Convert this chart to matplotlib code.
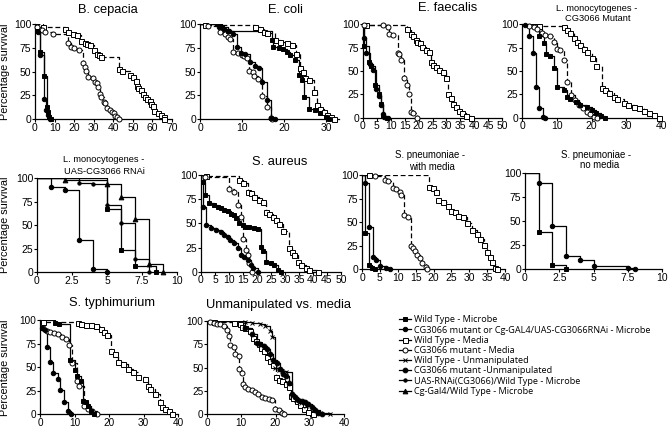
import matplotlib
matplotlib.use('Agg')
import matplotlib.pyplot as plt
from matplotlib.lines import Line2D

W, H = 669, 429
plt.rcParams['font.family'] = ['Liberation Sans', 'DejaVu Sans']
plt.rcParams['lines.scale_dashes'] = False

# ---------------- data (days, percent survival) ----------------
# B. cepacia
bc_wt_mic_t = [1.2, 2.5, 4.7, 5.9, 6.7, 7.2, 8]
bc_wt_mic_s = [93, 71, 45, 13, 7, 2.5, 0]
bc_mut_mic_t = [1.5, 2.8, 4.7, 5.5, 6.5, 7.5]
bc_mut_mic_s = [92, 68, 21, 10, 4, 0]
bc_wt_med_t = [4.2, 15.4, 16.8, 19.6, 21.3, 23.5, 25.6, 26.5, 28, 30.2, 31.5, 32.7, 33.5, 42.7, 44.4, 48.6,
               50.3, 51.5, 52, 52.8, 54, 55, 56, 57.3, 58.7, 59.5, 60.3, 61, 62.8, 64.5, 65.7, 66]
bc_wt_med_s = [97, 95, 91.5, 89.5, 89, 82, 80, 79, 78, 73, 69, 68, 65, 52.5, 51, 46.5,
               44, 40, 35, 33, 30.6, 26, 23.6, 21, 19, 16, 14, 8, 6, 4, 2, 0]
bc_mut_med_t = [1.2, 3.4, 5, 9.2, 16.8, 18.4, 20, 22.6, 24.3, 25.5, 26.3, 27.3, 29.7, 30.5, 31.5, 32.3,
                33, 33.9, 35.2, 36, 36.9, 38.5, 39.4, 40.2, 41, 42, 42.7]
bc_mut_med_s = [97, 94, 92, 89.4, 80, 76, 74.5, 73, 59, 55, 51, 44.7, 43.7, 39, 37.7, 33.5,
                26, 23, 18.3, 16.5, 12, 9.5, 7.4, 6, 3.5, 2.5, 0]

# E. coli
ec_wt_mic_t = [5.2, 6.7, 17, 17.3, 18.7, 19.8, 20.6, 21.4, 22.5, 23.4, 24.2, 24.8, 25.8, 27.4, 28.6, 29.8, 30.6]
ec_wt_mic_s = [96.8, 93.3, 83.5, 76, 74.6, 73.6, 71, 67.6, 62, 46.5, 41, 23.6, 11, 9.5, 6, 2.5, 0]
ec_mut_mic_t = [4.4, 5.8, 7, 7.8, 8.7, 9.8, 10.7, 11.9, 13.1, 14.1, 14.8, 15.9, 16.9, 17.9]
ec_mut_mic_s = [97.5, 94.7, 93, 89.8, 76, 70, 69, 60.6, 56, 53.5, 39.4, 20, 0.7, 0]
ec_wt_med_t = [1.2, 13.1, 14.3, 15.2, 15.9, 17.9, 19, 20.6, 21.8, 22.8, 23.8, 24.4, 25, 25.8, 27, 27.8,
               28.6, 29.4, 30.2, 31, 31.7]
ec_wt_med_s = [99, 97.5, 94.7, 92, 90.5, 83.5, 81.7, 80, 78, 69, 53.5, 50, 43, 41, 29, 15,
               11, 7, 4, 2, 0]
ec_mut_med_t = [1.8, 4.8, 6, 6.7, 7.1, 7.9, 9, 9.9, 10.5, 11.1, 11.7, 12.5, 12.9, 13.7, 14.8, 15.9, 16.8, 17.2]
ec_mut_med_s = [98.6, 91.5, 89.4, 87, 85, 71, 70, 67.6, 66, 64.8, 51, 50, 45.4, 42, 24, 13, 0.8, 0]

# E. faecalis
ef_wt_mic_t = [0.2, 2.1, 3, 4.2, 5.6, 6.3, 7.1, 8.5]
ef_wt_mic_s = [77, 60, 55, 35, 25, 15, 2, 0]
ef_mut_mic_t = [0.4, 1.2, 2.5, 3.6, 4.8, 5.6, 6.3, 7.1, 7.7, 9]
ef_mut_mic_s = [85, 69, 58, 51, 31, 23.6, 14, 4, 1, 0]
ef_wt_med_t = [1.2, 15.7, 17.3, 18, 19, 19.6, 20.5, 21.4, 22.6, 23.6, 24.4, 25.2, 26.2, 27.4, 28.6, 29.8,
               30.6, 31.5, 32.5, 33.3, 34.5, 35.7, 36.9, 38.7]
ef_wt_med_s = [99, 94.6, 90, 87, 83, 81, 79.6, 76, 73, 70.7, 60, 56.4, 54.6, 51, 49, 43,
               25, 20.7, 15, 11, 7.5, 4.6, 2, 0]
ef_mut_med_t = [0.5, 7.1, 8.9, 9.5, 10.7, 12.5, 12.9, 13.7, 14.9, 15.7, 16.4, 17.3, 17.9, 19.3]
ef_mut_med_s = [99.5, 99, 97.5, 90, 89, 69, 68, 62, 42, 35, 25, 6.4, 4.6, 0]

# L. monocytogenes - CG3066 mutant
lm_mut_mic_t = [1, 1.9, 3.1, 4, 5, 6, 6.7]
lm_mut_mic_s = [99, 87.5, 69, 32.5, 10.7, 1, 0]
lm_wt_mic_t = [4.8, 6.3, 6.9, 8, 9.1, 10.1, 12, 13, 13.9, 15.4, 16.8, 18.8, 20.2, 21.2, 22.6, 24]
lm_wt_mic_s = [87.5, 79.6, 68, 66.4, 53, 32.5, 29.6, 22.5, 19.6, 16.4, 13.6, 11, 8, 4.6, 1.8, 0]
lm_mut_med_t = [1.9, 3.4, 4.3, 5.8, 6.7, 8, 9.1, 10.1, 11, 12, 13, 14.2, 15.2, 16.3, 17.5, 18.8, 19.7, 20.7, 21.6]
lm_mut_med_s = [98.6, 97, 94.6, 91, 89, 87, 81.4, 73.6, 72.5, 62, 38.6, 24, 19, 14, 10, 6.4, 3.6, 1, 0]
lm_wt_med_t = [4.8, 12, 13, 13.9, 14.9, 15.9, 16.8, 17.8, 18.8, 20.2, 21.4, 22.9, 23.8, 25, 26.4, 27.4,
               29.3, 30.6, 32.2, 33.7, 35.1, 36.5, 38, 39.4]
lm_wt_med_s = [98.6, 97, 94, 90.4, 85.7, 81.4, 78, 74, 70, 63.6, 55, 32, 30, 26.8, 22.5, 20,
               16, 13.6, 11.8, 10, 7, 5.4, 2.9, 0]

# L. monocytogenes - UAS-CG3066 RNAi
lr_wt_mic_t = [5, 6, 7, 8.5]
lr_wt_mic_s = [67, 23.5, 7, 0]
lr_rnai_mic_t = [1, 2, 3, 4, 5]
lr_rnai_mic_s = [90.5, 87.5, 34, 4, 0]
lr_uas_t = [3, 4, 5, 6, 7, 8]
lr_uas_s = [95, 93.5, 72, 52, 14, 0]
lr_cg_t = [2, 5, 6, 7, 8, 9]
lr_cg_s = [98, 94, 80, 57, 9, 0]

# S. aureus
sa_wt_mic_t = [0.6, 1.5, 3.0, 4.8, 6.0, 7.1, 8.3, 9.5, 10.7, 11.7, 12.5, 13.5, 14.9, 16.1, 17.3, 19.0,
               20.2, 21.4, 22.3, 23.2, 25.0, 26.2, 27.4, 28.6]
sa_wt_mic_s = [93, 79, 70.7, 69, 67, 65.5, 63.8, 62.8, 60, 58.6, 56, 50, 48, 46.6, 46, 45,
               44, 26, 21.4, 10.3, 8.6, 7, 1.7, 0]
sa_mut_mic_t = [0.6, 1.8, 3.6, 5.4, 7.1, 8.3, 9.5, 10.4, 11.9, 13.1, 14.3, 15.5, 16.7, 17.9, 18.7, 20.2]
sa_mut_mic_s = [67, 48, 45, 43, 41.4, 38, 36, 32.8, 29.3, 24, 17.2, 15.5, 12, 7, 3.4, 0]
sa_mut_med_t = [1.5, 10.1, 11.9, 13.1, 14.3, 15.1, 16.1, 16.7, 17.3, 18.1]
sa_mut_med_s = [98, 86, 82.8, 69, 57, 34, 22.4, 17, 8.6, 0]
sa_wt_med_t = [1.8, 13.7, 15.1, 16.7, 17.9, 19.0, 20.8, 22.0, 23.2, 24.4, 25.6, 26.8, 28.0, 29.2, 31.3,
               32.5, 33.3, 34.5, 35.7, 37.5, 38.7, 41.7]
sa_wt_med_s = [99, 95, 92, 82.8, 81, 77.6, 74, 72.4, 62, 60, 57, 53.4, 49, 42.4, 25,
               20.7, 17.2, 10.3, 6.9, 3.4, 1.7, 0]

# S. pneumoniae - with media
sp_mut_mic_t = [0.9, 2, 3.1, 4, 5.1, 6.8, 7.8]
sp_mut_mic_s = [91, 45, 13.4, 9.9, 3.5, 1, 0]
sp_wt_mic_t = [0.9, 2, 2.8, 3.6]
sp_wt_mic_s = [39, 4.6, 1, 0]
sp_mut_med_t = [3.6, 6.4, 7.3, 8.7, 9.6, 10.6, 11, 11.7, 12.9, 13.6, 14.3, 14.8, 15.4, 16.2, 16.8, 17.8, 18.3]
sp_mut_med_s = [99, 95, 94, 86.6, 85, 81.6, 78.8, 57.6, 55, 24.7, 22.3, 19.4, 15, 11.7, 6.4, 2, 0]
sp_wt_med_t = [2, 18.7, 19.9, 20.8, 21.3, 22.7, 24.1, 24.8, 26, 26.9, 28.3, 29.4, 30.7, 32.1, 33, 34.1,
               34.9, 35.8, 36.4, 37.2, 37.7]
sp_wt_med_s = [99.5, 87.6, 86, 82.3, 74, 71.7, 67, 62, 61, 57, 55, 48.8, 41.7, 37.5, 31.8, 25.8,
               18.7, 13.4, 7.4, 1, 0]

# S. pneumoniae - no media
sn_wt_mic_t = [1, 2, 3]
sn_wt_mic_s = [39, 4.2, 0]
sn_mut_mic_t = [1, 2, 3, 4, 5, 7.5, 8]
sn_mut_mic_s = [89.5, 45, 13.6, 9.4, 3.5, 1.4, 0]

# S. typhimurium
st_mut_mic_t = [0.5, 1.5, 2, 2.9, 3.9, 5.1, 5.9, 6.9, 8, 9]
st_mut_mic_s = [92, 90, 71, 55.5, 43.5, 37.8, 25.8, 12.4, 3.5, 0]
st_wt_mic_t = [4.4, 5.4, 8.8, 10, 10.6, 11.8, 12.5, 13.2, 13.9, 14.7, 15.7]
st_wt_mic_s = [97, 96, 58, 46.6, 40.6, 35, 14, 12.4, 8.8, 2.8, 0]
st_mut_med_t = [1, 2, 2.9, 4.1, 5.1, 6.4, 7.4, 8.3, 9.3, 10.6, 11.3, 12.7, 13.9, 15.2, 16.4]
st_mut_med_s = [92, 89, 87.6, 86.6, 84.8, 82.3, 80, 74, 54.8, 35.3, 30, 8.8, 5.3, 2.8, 0]
st_wt_med_t = [1, 11, 11.8, 13.2, 14.7, 16.2, 17.6, 18.6, 19.4, 20.6, 21.6, 22.5, 24, 25.5, 27, 28.4,
               30.4, 31.4, 32, 33.3, 34.8, 35.3, 36.3, 37.3, 38.2]
st_wt_med_s = [98, 97, 96, 95.4, 94.7, 93.6, 90.8, 87.6, 83.7, 67, 63.6, 55.8, 53, 47.7, 45, 39.6,
               37, 30, 26.5, 21, 12.4, 7, 5.3, 3.5, 0]

# Unmanipulated vs. media
um_mut_med_t = [1, 1.9, 2.9, 3.9, 4.9, 5.8, 6.3, 6.8, 7.8, 8.3, 9.2, 9.4, 10.2, 10.4, 11.2, 11.9, 13.1,
                14.1, 15, 16, 17, 18.2, 19.1, 19.9, 20.9, 21.8, 22.6]
um_mut_med_s = [99, 98, 97, 96.5, 94.7, 91, 84, 74, 72, 64.5, 62.8, 48.6, 44, 32.6, 29, 27.3, 25.5,
                23.8, 21.3, 19, 17.7, 16.7, 14.9, 6, 4.3, 1.4, 0]
um_wt_med_t = [1.9, 7.8, 9.7, 10.2, 11.2, 12.6, 13.3, 14.3, 15.2, 15.8, 16.5, 17.5, 18.4, 19.4, 20.1,
               21.1, 22, 23, 24, 24.6, 25.2, 26.2, 27.2, 28.4, 29.6, 31]
um_wt_med_s = [99.5, 98, 96.5, 93.6, 93, 89.4, 82, 78.7, 75, 71, 68, 61.7, 56.7, 53, 39.7,
               36.9, 35.5, 32.6, 29, 20, 17.7, 14, 9.5, 5.3, 2.5, 0]
um_wt_un_t = [11.2, 13.1, 15.5, 17, 18.4, 19, 19.9, 21, 22, 23.2, 24.8, 26, 27.5, 29, 31, 33, 36]
um_wt_un_s = [99.3, 98.6, 97, 94.7, 90, 83, 50, 47.5, 46, 45, 20, 15, 12, 9, 5, 1, 0]
um_mut_un_t = [11.2, 13.1, 14.6, 15.5, 16.5, 17.5, 18.4, 19.4, 20.4, 21.4, 22.3, 23.1, 24, 24.8, 25.7,
               26.7, 27.7, 28.6, 29.6, 30.6, 31.6, 32.5, 33.5]
um_mut_un_s = [93, 85.8, 77, 75, 73.4, 70, 64.5, 58, 54.6, 48.6, 43.3, 41.5, 34, 22, 18.4,
               15.6, 14.2, 13, 10.6, 7.8, 4.3, 1.4, 0]

legend_labels = ["Wild Type - Microbe",
                 "CG3066 mutant or Cg-GAL4/UAS-CG3066RNAi - Microbe",
                 "Wild Type - Media",
                 "CG3066 mutant - Media",
                 "Wild Type - Unmanipulated",
                 "CG3066 mutant -Unmanipulated",
                 "UAS-RNAi(CG3066)/Wild Type - Microbe",
                 "Cg-Gal4/Wild Type - Microbe"]

# ---------------- styles ----------------
DASH = (3.5, 2.0)
STY = {
    'wt_mic':  dict(marker='s', mfc='black', ms=3.2, dashed=False),
    'mut_mic': dict(marker='o', mfc='black', ms=3.2, dashed=False),
    'wt_med':  dict(marker='s', mfc='white', ms=3.6, dashed=True),
    'mut_med': dict(marker='o', mfc='white', ms=3.6, dashed=True),
    'wt_un':   dict(marker='x', mfc='black', ms=3.2, dashed=False),
    'mut_un':  dict(marker='o', mfc='black', ms=3.4, dashed=False),
    'uas':     dict(marker='o', mfc='black', ms=2.4, dashed=False),
    'cg':      dict(marker='^', mfc='black', ms=3.4, dashed=False),
}

fig = plt.figure(figsize=(W / 100, H / 100), dpi=100)


def add_ax(x0, y0, x1, y1):
    return fig.add_axes([x0 / W, 1 - y1 / H, (x1 - x0) / W, (y1 - y0) / H])


def km(ax, t, s, key):
    st = STY[key]
    tt = [0] + list(t)
    ss = [100] + list(s)
    kw = dict(color='black', lw=0.9)
    if st['dashed']:
        kw['dashes'] = DASH
    ax.step(tt, ss, where='post', **kw)
    ax.plot(t, s, ls='none', marker=st['marker'], ms=st['ms'], mfc=st['mfc'], mec='black',
            mew=0.7, clip_on=False, zorder=3)


def fmt(ax, xmax, xticks, xlabels=None, size=7.5):
    ax.set_xlim(0, xmax)
    ax.set_ylim(0, 100)
    for sp in ('top', 'right'):
        ax.spines[sp].set_visible(False)
    for sp in ('left', 'bottom'):
        ax.spines[sp].set_linewidth(0.9)
    ax.set_yticks([0, 25, 50, 75, 100])
    ax.set_xticks(xticks)
    if xlabels is not None:
        ax.set_xticklabels(xlabels)
    ax.tick_params(direction='out', length=2.0, width=0.8, labelsize=size, pad=0.6)
    ax.patch.set_alpha(0)


def ftext(x, y, s, size, **kw):
    fig.text(x / W, 1 - y / H, s, fontsize=size, ha='center', va='center', **kw)


# panel 1: B. cepacia
ax = add_ax(35, 24.3, 172, 119)
km(ax, bc_wt_med_t, bc_wt_med_s, 'wt_med')
km(ax, bc_mut_med_t, bc_mut_med_s, 'mut_med')
km(ax, bc_wt_mic_t, bc_wt_mic_s, 'wt_mic')
km(ax, bc_mut_mic_t, bc_mut_mic_s, 'mut_mic')
fmt(ax, 70, range(0, 71, 10))
ftext(108, 10, "B. cepacia", 9.3)

# panel 2: E. coli
ax = add_ax(200, 24.3, 339, 119)
km(ax, ec_wt_med_t, ec_wt_med_s, 'wt_med')
km(ax, ec_mut_med_t, ec_mut_med_s, 'mut_med')
km(ax, ec_wt_mic_t, ec_wt_mic_s, 'wt_mic')
km(ax, ec_mut_mic_t, ec_mut_mic_s, 'mut_mic')
fmt(ax, 33, [0, 10, 20, 30])
ftext(285, 10, "E. coli", 9.3)

# panel 3: E. faecalis
ax = add_ax(363, 24.3, 502, 117.7)
km(ax, ef_wt_med_t, ef_wt_med_s, 'wt_med')
km(ax, ef_mut_med_t, ef_mut_med_s, 'mut_med')
km(ax, ef_wt_mic_t, ef_wt_mic_s, 'wt_mic')
km(ax, ef_mut_mic_t, ef_mut_mic_s, 'mut_mic')
fmt(ax, 50, range(0, 51, 5))
ftext(448, 8, "E. faecalis", 9.3)

# panel 4: L. monocytogenes - CG3066 Mutant
ax = add_ax(522, 24.3, 661, 117.7)
km(ax, lm_wt_med_t, lm_wt_med_s, 'wt_med')
km(ax, lm_mut_med_t, lm_mut_med_s, 'mut_med')
km(ax, lm_wt_mic_t, lm_wt_mic_s, 'wt_mic')
km(ax, lm_mut_mic_t, lm_mut_mic_s, 'mut_mic')
fmt(ax, 40, [0, 10, 20, 30, 40])
ftext(597, 8.3, "L. monocytogenes -", 6.7)
ftext(598, 18.6, "CG3066 Mutant", 6.7)

# panel 5: L. monocytogenes - UAS-CG3066 RNAi
ax = add_ax(37, 178.3, 177, 272.3)
km(ax, lr_cg_t, lr_cg_s, 'cg')
km(ax, lr_uas_t, lr_uas_s, 'uas')
km(ax, lr_wt_mic_t, lr_wt_mic_s, 'wt_mic')
km(ax, lr_rnai_mic_t, lr_rnai_mic_s, 'mut_mic')
fmt(ax, 10, [0, 2.5, 5, 7.5, 10], ["0", "2.5", "5", "7.5", "10"])
ftext(103.5, 160, "L. monocytogenes -", 6.7)
ftext(104, 171, "UAS-CG3066 RNAi", 6.7)

# panel 6: S. aureus
ax = add_ax(201, 175, 341, 271.7)
km(ax, sa_wt_med_t, sa_wt_med_s, 'wt_med')
km(ax, sa_mut_med_t, sa_mut_med_s, 'mut_med')
km(ax, sa_wt_mic_t, sa_wt_mic_s, 'wt_mic')
km(ax, sa_mut_mic_t, sa_mut_mic_s, 'mut_mic')
fmt(ax, 50, range(0, 51, 5))
ftext(280, 161.7, "S. aureus", 9.3)

# panel 7: S. pneumoniae - with media
ax = add_ax(362, 175, 505, 269.3)
km(ax, sp_wt_med_t, sp_wt_med_s, 'wt_med')
km(ax, sp_mut_med_t, sp_mut_med_s, 'mut_med')
km(ax, sp_wt_mic_t, sp_wt_mic_s, 'wt_mic')
km(ax, sp_mut_mic_t, sp_mut_mic_s, 'mut_mic')
fmt(ax, 40, range(0, 41, 5))
ftext(430, 155, "S. pneumoniae -", 6.9)
ftext(431.5, 166.7, "with media", 6.9)

# panel 8: S. pneumoniae - no media
ax = add_ax(525, 173.3, 662, 269)
km(ax, sn_wt_mic_t, sn_wt_mic_s, 'wt_mic')
km(ax, sn_mut_mic_t, sn_mut_mic_s, 'mut_mic')
fmt(ax, 10, [0, 2.5, 5, 7.5, 10], ["0", "2.5", "5", "7.5", "10"])
ftext(596.5, 155, "S. pneumoniae -", 6.9)
ftext(600, 165.3, "no media", 6.9)

# panel 9: S. typhimurium
ax = add_ax(40, 320.2, 178, 414)
km(ax, st_wt_med_t, st_wt_med_s, 'wt_med')
km(ax, st_mut_med_t, st_mut_med_s, 'mut_med')
km(ax, st_wt_mic_t, st_wt_mic_s, 'wt_mic')
km(ax, st_mut_mic_t, st_mut_mic_s, 'mut_mic')
fmt(ax, 40, [0, 10, 20, 30, 40], size=7.2)
ftext(112, 303.3, "S. typhimurium", 9.3)

# panel 10: Unmanipulated vs. media
ax = add_ax(207, 321.2, 344, 414.2)
km(ax, um_wt_med_t, um_wt_med_s, 'wt_med')
km(ax, um_mut_med_t, um_mut_med_s, 'mut_med')
km(ax, um_wt_un_t, um_wt_un_s, 'wt_un')
km(ax, um_mut_un_t, um_mut_un_s, 'mut_un')
fmt(ax, 40, [0, 10, 20, 30, 40], size=7.2)
ftext(278.5, 305, "Unmanipulated vs. media", 9.3)

# y labels
for yc in (72, 225, 368):
    fig.text(5.5 / W, 1 - yc / H, "Percentage survival", fontsize=7.8, rotation=90,
             ha='center', va='center')

# legend
keys = ['wt_mic', 'mut_mic', 'wt_med', 'mut_med', 'wt_un', 'mut_un', 'uas', 'cg']
handles = []
for k in keys:
    st = STY[k]
    h = Line2D([], [], color='black', lw=0.9, marker=st['marker'], ms=st['ms'],
               mfc=st['mfc'], mec='black', mew=0.7)
    handles.append(h)
fig.legend(handles, legend_labels, loc='upper left', bbox_to_anchor=(399 / W, 1 - 315.5 / H),
           frameon=False, borderpad=0, borderaxespad=0, handlelength=1.3, handletextpad=0.35,
           labelspacing=0.13, prop={'family': 'Open Sans', 'size': 6.6}, markerscale=1.0)

fig.savefig('out.png', dpi=100)
